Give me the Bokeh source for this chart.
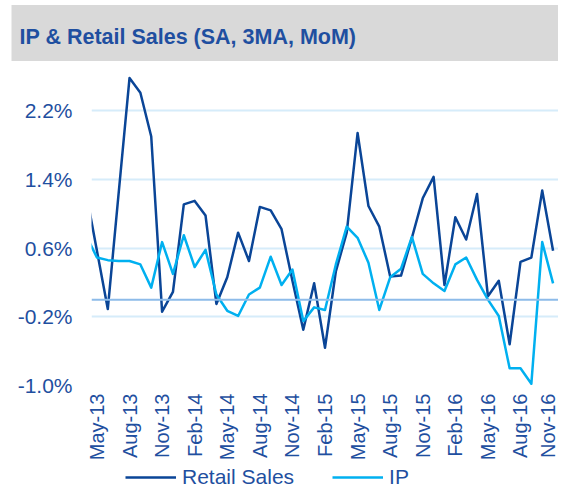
import math
from bokeh.plotting import figure
from bokeh.models import (ColumnDataSource, Range1d, FixedTicker, Span, Legend,
                          LegendItem, PrintfTickFormatter, Title)
from bokeh.layouts import column
from bokeh.embed import file_html
from bokeh.resources import INLINE

# ---------------- data ----------------
title_text = "IP & Retail Sales (SA, 3MA, MoM)"
# monthly, Apr-13 .. Nov-16 (Apr-13 sits just outside the visible axis)
retail = [1.25, 0.57, -0.11, 1.24, 2.58, 2.41, 1.90, -0.14, 0.09, 1.11, 1.15,
          0.98, -0.05, 0.26, 0.78, 0.45, 1.08, 1.04, 0.82, 0.22, -0.35, 0.19,
          -0.56, 0.33, 0.78, 1.94, 1.09, 0.85, 0.27, 0.28, 0.72, 1.18, 1.43,
          0.17, 0.96, 0.70, 1.23, 0.04, 0.22, -0.52, 0.44, 0.49, 1.27, 0.57]
ip = [0.75, 0.49, 0.46, 0.45, 0.45, 0.41, 0.14, 0.67, 0.30, 0.75, 0.38,
      0.58, 0.06, -0.13, -0.19, 0.06, 0.14, 0.50, 0.17, 0.35, -0.25, -0.09,
      -0.12, 0.41, 0.85, 0.72, 0.43, -0.12, 0.26, 0.36, 0.73, 0.30, 0.19,
      0.10, 0.41, 0.49, 0.23, 0.00, -0.19, -0.80, -0.80, -0.98, 0.67, 0.19]
tick_labels = ["May-13", "Aug-13", "Nov-13", "Feb-14", "May-14", "Aug-14",
               "Nov-14", "Feb-15", "May-15", "Aug-15", "Nov-15", "Feb-16",
               "May-16", "Aug-16", "Nov-16"]
y_ticks = [-1.0, -0.2, 0.6, 1.4, 2.2]
series_names = ["Retail Sales", "IP"]

# month index: May-13 = 0
xs = list(range(-1, len(retail) - 1))
src = ColumnDataSource(dict(x=xs, retail=retail, ip=ip))
tick_pos = [3 * k for k in range(len(tick_labels))]

FONT = "Liberation Sans"
TXT = "#1f4fa0"
DARK = "#0a4597"
LIGHT = "#00b0f0"

p = figure(frame_width=467, frame_height=322, output_backend="svg",
           toolbar_location=None,
           x_range=Range1d(-0.5, 42.5), y_range=Range1d(-1.0, 2.75),
           min_border_left=91, min_border_right=0, min_border_top=0,
           min_border_bottom=0, title=None)
p.outline_line_color = None
p.background_fill_color = "white"
p.border_fill_color = "white"

title = Title(text=title_text, align="left", offset=-80, standoff=5,
              text_font=FONT, text_font_size="21.5px", text_font_style="bold",
              text_color=TXT, background_fill_color="#d9d9d9",
              padding=dict(left=8, right=300, top=20, bottom=12))
p.add_layout(title, "above")

p.line("x", "retail", source=src, line_color=DARK, line_width=2.5,
       line_join="round")
p.line("x", "ip", source=src, line_color=LIGHT, line_width=2.5,
       line_join="round")

p.add_layout(Span(location=0, dimension="width", line_color="#8dbbe9",
                  line_width=2), "center")

p.xaxis.ticker = FixedTicker(ticks=tick_pos)
p.xaxis.major_label_overrides = {pos: lab for pos, lab in zip(tick_pos, tick_labels)}
p.xaxis.major_label_orientation = math.pi / 2
p.yaxis.ticker = FixedTicker(ticks=y_ticks)
p.yaxis.formatter = PrintfTickFormatter(format="%.1f%%")

for ax in (p.xaxis, p.yaxis):
    ax.axis_line_color = None
    ax.major_tick_line_color = None
    ax.minor_tick_line_color = None
    ax.major_tick_out = 0
    ax.major_tick_in = 0
    ax.minor_tick_out = 0
    ax.minor_tick_in = 0
    ax.major_label_text_font = FONT
    ax.major_label_text_color = TXT
p.yaxis.major_label_text_font_size = "21px"
p.xaxis.major_label_text_font_size = "20px"
p.xaxis.major_label_standoff = 8
p.yaxis.major_label_standoff = 19

p.xgrid.visible = False
p.ygrid.grid_line_color = "#d6ecfa"
p.ygrid.grid_line_width = 2

# ---------------- legend strip ----------------
# the strip reuses the series data, with a view range that shows none of it,
# so only the legend keys are visible
lf = figure(frame_width=467, frame_height=26, output_backend="svg",
            toolbar_location=None, x_range=Range1d(100, 101),
            y_range=Range1d(100, 101),
            x_axis_location=None, y_axis_location=None,
            min_border_left=91, min_border_right=0, min_border_top=0,
            min_border_bottom=0)
lf.outline_line_color = None
lf.grid.visible = False
k1 = lf.line("x", "retail", source=src, line_color=DARK, line_width=2.5)
k2 = lf.line("x", "ip", source=src, line_color=LIGHT, line_width=2.5)

legend = Legend(items=[LegendItem(label=series_names[0], renderers=[k1]),
                       LegendItem(label=series_names[1], renderers=[k2])],
                orientation="horizontal", location=(34, 0),
                glyph_width=51, glyph_height=20, label_standoff=6, spacing=38,
                padding=0, margin=0, border_line_color=None,
                background_fill_alpha=0, label_height=20,
                label_text_font=FONT, label_text_font_size="21px",
                label_text_color=TXT)
lf.add_layout(legend, "center")

layout = column(p, lf, spacing=0)
open("out.html", "w").write(file_html(layout, INLINE))
